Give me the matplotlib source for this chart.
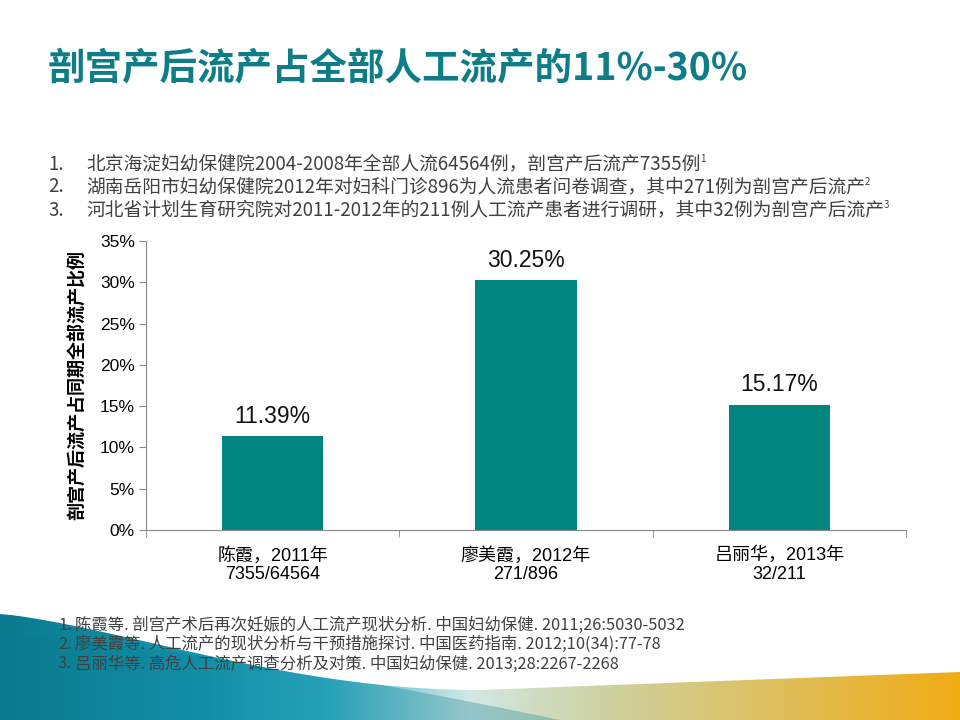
import numpy as np
import matplotlib
matplotlib.use("Agg")
import matplotlib.pyplot as plt
from matplotlib.patches import Polygon
from matplotlib.colors import to_rgb
from matplotlib.ticker import FixedLocator, PercentFormatter

# data
authors = ["陈霞", "廖美霞", "吕丽华"]
years = [2011, 2012, 2013]
counts = ["7355/64564", "271/896", "32/211"]
ratios = [11.39, 30.25, 15.17]

title = "剖宫产后流产占全部人工流产的11%-30%"
notes = [
    "北京海淀妇幼保健院2004-2008年全部人流64564例，剖宫产后流产7355例",
    "湖南岳阳市妇幼保健院2012年对妇科门诊896为人流患者问卷调查，其中271例为剖宫产后流产",
    "河北省计划生育研究院对2011-2012年的211例人工流产患者进行调研，其中32例为剖宫产后流产",
]
refs = [
    "陈霞等. 剖宫产术后再次妊娠的人工流产现状分析. 中国妇幼保健. 2011;26:5030-5032",
    "廖美霞等. 人工流产的现状分析与干预措施探讨. 中国医药指南. 2012;10(34):77-78",
    "吕丽华等. 高危人工流产调查分析及对策. 中国妇幼保健. 2013;28:2267-2268",
]
ylabel = "剖宫产后流产占同期全部流产比例"

CJK = ["Noto Sans CJK SC", "DejaVu Sans"]
ARIAL = ["Liberation Sans", "Noto Sans CJK SC"]
TEAL = "#00857f"
GREY = "#404040"

plt.rcParams["font.family"] = CJK

fig = plt.figure(figsize=(9.6, 7.2), dpi=100)

# slide background with the wave at the bottom
bg = fig.add_axes([0, 0, 1, 1])
bg.set_xlim(0, 960)
bg.set_ylim(720, 0)
bg.axis("off")

stops = [0, 200, 330, 470, 600, 960]
cols = ["#0a7a8e", "#1697b2", "#35b3ca", "#d3e8e6", "#cdd2a2", "#f0ac15"]
xs = np.linspace(0, 960, 480)
rgb = np.array([to_rgb(c) for c in cols])
grad = np.stack([np.interp(xs, stops, rgb[:, k]) for k in range(3)], axis=-1)
grad = np.repeat(grad[None, :, :], 2, axis=0)
im = bg.imshow(grad, extent=(0, 960, 720, 600), aspect="auto", zorder=0)

edge_x = np.linspace(0, 480, 40)
edge_y = 614 + (690 - 614) * np.sin(edge_x / 480 * np.pi / 2) ** 1.3
wave = np.vstack([np.column_stack([edge_x, edge_y]),
                  [[960, 672], [960, 720], [0, 720]]])
clip = Polygon(wave, closed=True, transform=bg.transData, facecolor="none", edgecolor="none")
bg.add_patch(clip)
im.set_clip_path(clip)

# darker band on the left part of the wave
band_x = np.linspace(0, 560, 40)
band_top = 636 + 84 * (band_x / 560) ** 1.4
band = np.vstack([np.column_stack([band_x, band_top]), [[0, 720]]])
bg.add_patch(Polygon(band, closed=True, facecolor="#0a7a8e", alpha=0.3,
                     edgecolor="none", clip_path=clip, zorder=1))

# title
fig.text(48 / 960, 1 - 68 / 720, title, fontsize=27, fontweight="bold",
         color="#0f7d88", va="center", ha="left")

# numbered notes
for i, line in enumerate(notes):
    y = 1 - (164 + 23 * i) / 720
    fig.text(48 / 960, y, f"{i + 1}.", fontsize=13.5, color=GREY, va="center")
    t = fig.text(86 / 960, y, line, fontsize=13.5, color=GREY, va="center")
    fig.add_artist(plt.Annotation(str(i + 1), xy=(1.0, 0.75), xycoords=t,
                                  fontsize=7, color=GREY, va="center", ha="left"))

# bar chart
ax = fig.add_axes([146 / 960, 1 - 530 / 720, 760 / 960, 289 / 720])
xpos = np.arange(len(ratios))
bars = ax.bar(xpos, ratios, width=0.4, color=TEAL, zorder=2)
for b, v in zip(bars, ratios):
    ax.annotate(f"{v:.2f}%", (b.get_x() + b.get_width() / 2, v),
                xytext=(0, 6), textcoords="offset points", ha="center",
                va="bottom", fontsize=16.5, family=ARIAL, color="#111111")

ax.set_xlim(-0.5, len(ratios) - 0.5)
ax.set_ylim(0, 35)
ax.set_yticks(np.arange(0, 36, 5))
ax.yaxis.set_major_formatter(PercentFormatter(decimals=0))
ax.set_xticks(xpos)
ax.set_xticklabels([f"{a}，{y}年\n{c}" for a, y, c in zip(authors, years, counts)],
                   family=ARIAL, fontsize=13, linespacing=1.15)
ax.xaxis.set_minor_locator(FixedLocator(np.arange(-0.5, len(ratios), 1.0)))
ax.tick_params(axis="x", which="major", length=0, pad=12)
ax.tick_params(axis="x", which="minor", length=5, color="#888888", direction="out")
ax.tick_params(axis="y", length=5, color="#888888", labelsize=12.5, pad=3)
for lab in ax.get_yticklabels():
    lab.set_family(ARIAL)
for s in ["top", "right"]:
    ax.spines[s].set_visible(False)
for s in ["left", "bottom"]:
    ax.spines[s].set_color("#888888")
ax.patch.set_alpha(0)
ax.set_ylabel(ylabel, fontsize=13, fontweight="bold", labelpad=10)

# references
for i, line in enumerate(refs):
    y = 1 - (625 + 19.5 * i) / 720
    fig.text(58 / 960, y, f"{i + 1}.", fontsize=11.8, color=GREY, va="center")
    fig.text(75 / 960, y, line, fontsize=11.8, color=GREY, va="center")

fig.savefig("out.png", dpi=100)
